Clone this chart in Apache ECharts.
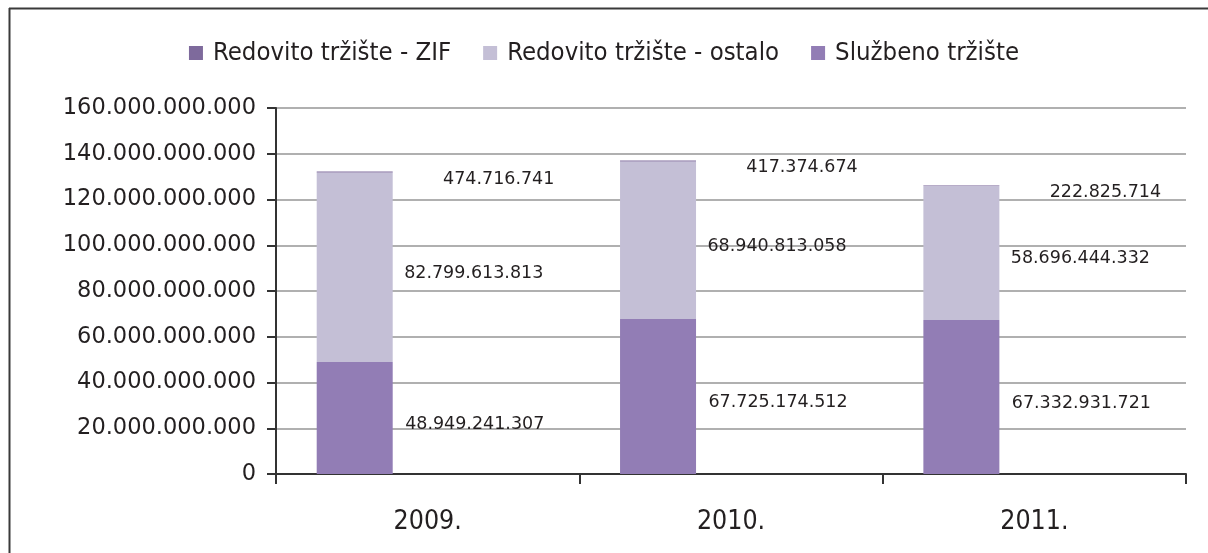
<!DOCTYPE html>
<html>
<head>
<meta charset="utf-8">
<script src="https://cdn.jsdelivr.net/npm/echarts@6/dist/echarts.min.js"></script>
<style>
html,body{margin:0;padding:0;background:#fff;}
#c{width:1208px;height:553px;}
</style>
</head>
<body>
<div id="c"></div>
<script>
var categories = ['2009.', '2010.', '2011.'];
var sluzbeno = [48949241307, 67725174512, 67332931721];
var ostalo = [82799613813, 68940813058, 58696444332];
var zif = [474716741, 417374674, 222825714];
var seriesNames = ['Redovito tržište - ZIF', 'Redovito tržište - ostalo', 'Službeno tržište'];

function fmt(v) {
  return String(Math.round(v)).replace(/\B(?=(\d{3})+(?!\d))/g, '.');
}

var narrow = "'DejaVu Sans Condensed', 'Liberation Sans Narrow', 'Roboto', sans-serif";
var labelFont = "'DejaVu Sans', Verdana, sans-serif";

function stackSeries(name, data, color, offX, offY) {
  return {
    name: name,
    type: 'bar',
    stack: 'total',
    data: data,
    barWidth: 76,
    barGap: '92%',
    itemStyle: { color: color },
    label: {
      show: true,
      position: 'inside',
      offset: [offX, offY],
      color: '#231F20',
      fontFamily: labelFont,
      fontSize: 17.5,
      formatter: function (p) { return fmt(p.value); }
    }
  };
}

var chart = echarts.init(document.getElementById('c'), null, { renderer: 'canvas' });
chart.setOption({
  animation: false,
  backgroundColor: '#fff',
  graphic: [
    { type: 'line', shape: { x1: 9, y1: 8.5, x2: 1208, y2: 8.5 }, style: { stroke: '#3a3a3a', lineWidth: 2 } },
    { type: 'line', shape: { x1: 9.5, y1: 8, x2: 9.5, y2: 553 }, style: { stroke: '#3a3a3a', lineWidth: 2 } }
  ],
  legend: {
    data: seriesNames,
    top: 35,
    left: 'center',
    itemWidth: 14,
    itemHeight: 14,
    itemGap: 32,
    icon: 'rect',
    textStyle: { fontFamily: narrow, fontSize: 25.5, color: '#231F20', padding: [0, 0, 0, 5] }
  },
  grid: { left: 276, right: 22, top: 108, bottom: 79, containLabel: false },
  xAxis: {
    type: 'category',
    data: categories,
    axisLine: { lineStyle: { color: '#333', width: 2 } },
    axisTick: { show: true, length: 10, lineStyle: { color: '#333', width: 2 } },
    axisLabel: { margin: 35, fontFamily: narrow, fontSize: 26.5, color: '#231F20' }
  },
  yAxis: {
    type: 'value',
    min: 0,
    max: 160000000000,
    interval: 20000000000,
    axisLine: { show: true, lineStyle: { color: '#333', width: 2 } },
    axisTick: { show: true, length: 9, lineStyle: { color: '#333', width: 2 } },
    splitLine: { show: true, lineStyle: { color: '#B0B0B0', width: 2 } },
    axisLabel: { margin: 20, fontFamily: labelFont, fontSize: 22.5, color: '#231F20', formatter: fmt }
  },
  series: [
    stackSeries(seriesNames[2], sluzbeno, '#927DB5', 120, 6),
    stackSeries(seriesNames[1], ostalo, '#C4BFD6', 119, 6),
    stackSeries(seriesNames[0], zif, '#7E6A9C', 144, 7),
    {
      name: 'spacer',
      type: 'bar',
      stack: 'spacer',
      data: [0, 0, 0],
      barWidth: 76,
      barGap: '92%',
      silent: true,
      itemStyle: { color: 'rgba(0,0,0,0)' },
      label: { show: false }
    }
  ]
});
</script>
</body>
</html>
